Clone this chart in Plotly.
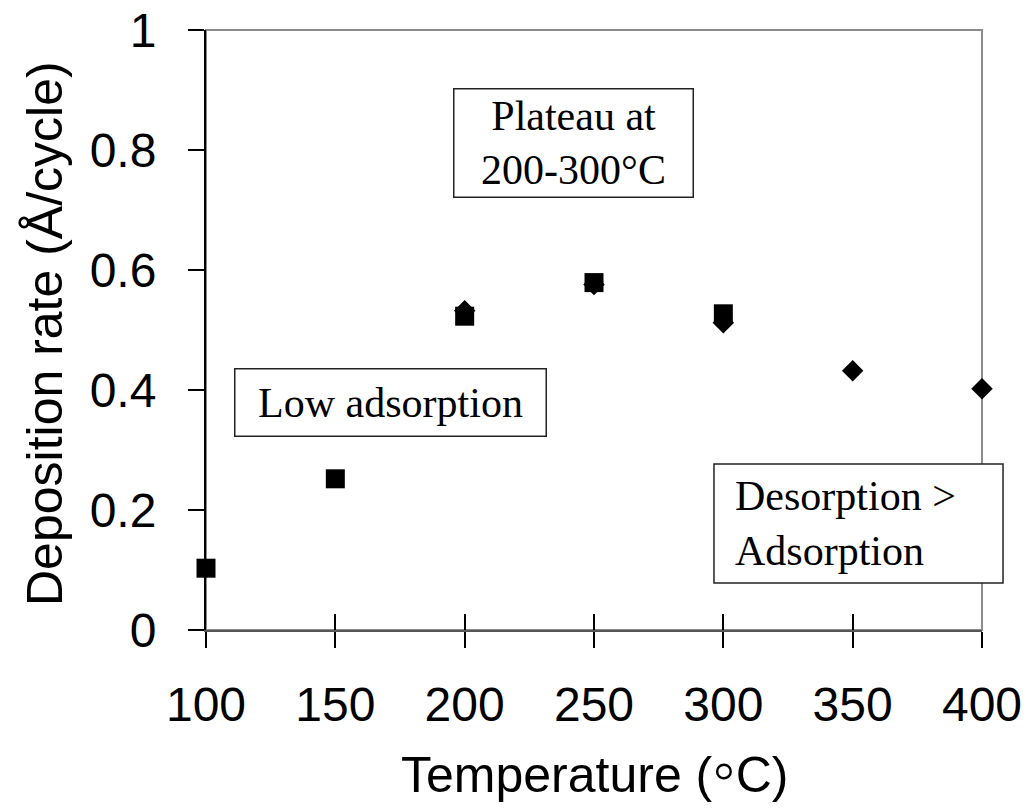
import plotly.graph_objects as go

# Data
temp_sq = [100, 150, 200, 250, 300]
rate_sq = [0.103, 0.252, 0.523, 0.579, 0.527]
temp_dm = [200, 250, 300, 350, 400]
rate_dm = [0.532, 0.576, 0.512, 0.432, 0.402]
x_ticks = [100, 150, 200, 250, 300, 350, 400]
y_ticks = [0, 0.2, 0.4, 0.6, 0.8, 1]
y_tick_labels = ["0", "0.2", "0.4", "0.6", "0.8", "1"]

fig = go.Figure()
fig.add_trace(go.Scatter(x=temp_dm, y=rate_dm, mode="markers", cliponaxis=False,
                         marker=dict(symbol="diamond", size=16.5, color="black"),
                         showlegend=False))
fig.add_trace(go.Scatter(x=temp_sq, y=rate_sq, mode="markers", cliponaxis=False,
                         marker=dict(symbol="square", size=19, color="black"),
                         showlegend=False))
# empty trace to carry the inside-tick overlay axis
fig.add_trace(go.Scatter(x=[], y=[], xaxis="x2", showlegend=False))

sans = "Liberation Sans, Arial, sans-serif"
serif = "Liberation Serif, Times New Roman, serif"

fig.update_layout(
    width=1031, height=808,
    margin=dict(l=206, r=49, t=30, b=178, autoexpand=False),
    paper_bgcolor="white", plot_bgcolor="white",
    xaxis=dict(range=[100, 400], tickvals=x_ticks, ticks="outside", ticklen=16,
               tickwidth=2, tickcolor="black", showgrid=False, zeroline=False,
               showline=True, linecolor="#555555", linewidth=2, automargin=False,
               tickfont=dict(family=sans, size=48, color="black"),
               ticklabelstandoff=15),
    xaxis2=dict(range=[100, 400], overlaying="x", anchor="y", side="bottom",
                tickvals=x_ticks, ticks="inside", ticklen=16, tickwidth=2,
                tickcolor="black", showticklabels=False, showgrid=False,
                zeroline=False, showline=False, automargin=False),
    yaxis=dict(range=[0, 1], tickvals=y_ticks, ticktext=y_tick_labels,
               ticks="outside", ticklen=16, tickwidth=2, tickcolor="black",
               showgrid=False, zeroline=False, showline=True, linecolor="black",
               linewidth=2, automargin=False,
               tickfont=dict(family=sans, size=48, color="black"),
               ticklabelstandoff=22),
    shapes=[
        dict(type="rect", xref="x domain", yref="y domain", x0=0, x1=1, y0=0, y1=1,
             line=dict(color="#8c8c8c", width=2), layer="below"),
        dict(type="rect", xref="paper", yref="paper", x0=0.6546, x1=1.0271,
             y0=0.0783, y1=0.2767,
             line=dict(color="#222222", width=1.5), fillcolor="white", layer="above"),
    ],
    annotations=[
        dict(text="Temperature (<span style='font-size:66px'>◦</span>C)",
             xref="paper", yref="paper", x=0.5, y=0,
             xanchor="center", yanchor="middle", yshift=-139, showarrow=False,
             font=dict(family=sans, size=50, color="black")),
        dict(text="Deposition rate (Å/cycle)", xref="paper", yref="paper", x=0, y=0.5,
             xanchor="center", yanchor="middle", xshift=-161, yshift=-4, textangle=-90,
             showarrow=False, font=dict(family=sans, size=50, color="black")),
        dict(text="Plateau at<br>200-300°C", x=242.1, y=0.812, xref="x", yref="y",
             xanchor="center", yanchor="middle", showarrow=False, width=238, height=107,
             borderpad=0, borderwidth=1.5, bordercolor="#222222", bgcolor="white",
             align="center", valign="middle",
             font=dict(family=serif, size=42, color="black")),
        dict(text="Low adsorption", x=171.3, y=0.379, xref="x", yref="y",
             xanchor="center", yanchor="middle", showarrow=False, width=310, height=66,
             borderpad=0, borderwidth=1.5, bordercolor="#222222", bgcolor="white",
             align="center", valign="middle",
             font=dict(family=serif, size=42, color="black")),
        dict(text="Desorption ><br>Adsorption", x=303.7, y=0.1775, xref="x", yref="y",
             xanchor="left", yanchor="middle", showarrow=False,
             align="left", valign="middle",
             font=dict(family=serif, size=42, color="black")),
    ],
)

fig.write_html("out.html")
